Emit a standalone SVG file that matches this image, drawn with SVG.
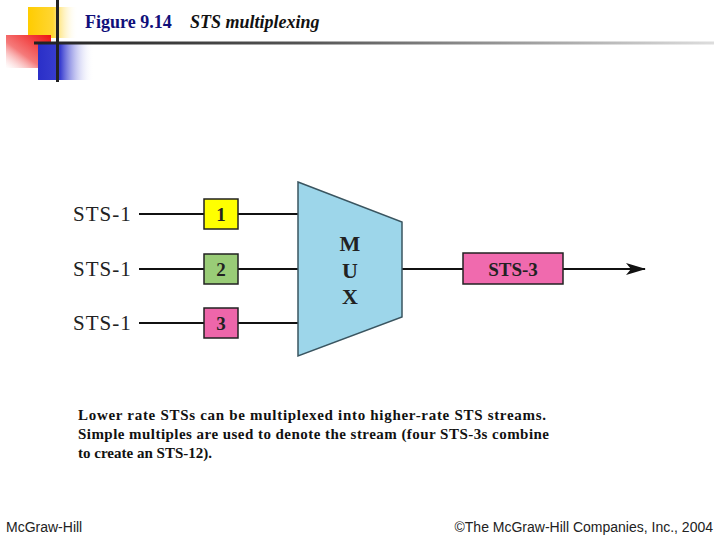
<svg xmlns="http://www.w3.org/2000/svg" width="720" height="540" viewBox="0 0 720 540">
<defs>
<linearGradient id="gy" x1="0" y1="0" x2="1" y2="0"><stop offset="0" stop-color="#ffcc00"/><stop offset="0.5" stop-color="#ffd633"/><stop offset="1" stop-color="#ffffff" stop-opacity="0"/></linearGradient>
<linearGradient id="gr" x1="1" y1="0" x2="0" y2="1"><stop offset="0" stop-color="#ee1111"/><stop offset="0.6" stop-color="#f57a7a"/><stop offset="1" stop-color="#ffffff" stop-opacity="0.4"/></linearGradient>
<linearGradient id="gb" x1="0" y1="0" x2="1" y2="0"><stop offset="0" stop-color="#2a2fc8"/><stop offset="0.4" stop-color="#3a3fd0"/><stop offset="1" stop-color="#ffffff" stop-opacity="0"/></linearGradient>
<linearGradient id="gl" x1="0" y1="0" x2="1" y2="0"><stop offset="0" stop-color="#222222"/><stop offset="0.4" stop-color="#555555"/><stop offset="1" stop-color="#dddddd"/></linearGradient>
<marker id="arr" viewBox="0 0 20 12" refX="19" refY="6" markerWidth="20" markerHeight="12" markerUnits="userSpaceOnUse" orient="auto"><path d="M0,0 L20,6 L0,12 L5,6 Z" fill="#111"/></marker>
<style>
.ln{stroke:#111;stroke-width:2;fill:none}
.in{font-family:"Liberation Serif","Times New Roman",serif;font-size:21px;letter-spacing:1px;fill:#222}
.bx{stroke:#222;stroke-width:1.5}
.num{font-family:"Liberation Serif","Times New Roman",serif;font-size:19px;font-weight:bold;fill:#222;text-anchor:middle}
.mux{font-family:"Liberation Serif","Times New Roman",serif;font-size:22px;font-weight:bold;fill:#222;text-anchor:middle}
.cap{font-family:"Liberation Serif","Times New Roman",serif;font-size:15px;font-weight:bold;fill:#111}
.ft{font-family:"Liberation Sans",Arial,sans-serif;font-size:14px;fill:#222}
</style>
</defs>
<rect width="720" height="540" fill="#ffffff"/>
<g id="decor">
<rect x="28" y="7" width="50" height="31" fill="url(#gy)"/>
<rect x="6" y="35" width="45" height="33" fill="url(#gr)"/>
<rect x="38" y="43" width="56" height="37" fill="url(#gb)"/>
<rect x="34" y="41.5" width="680" height="3" fill="url(#gl)"/>
<rect x="56" y="0" width="3" height="82" fill="#222"/>
</g>
<g id="title">
<text x="85" y="28" font-family="Liberation Serif,'Times New Roman',serif" font-size="18" font-weight="bold" fill="#10107a">Figure 9.14</text>
<text x="190" y="28" font-family="Liberation Serif,'Times New Roman',serif" font-size="18" font-weight="bold" font-style="italic" fill="#111">STS multiplexing</text>
</g>
<g id="connectors">
<line class="ln" x1="139" y1="214" x2="204" y2="214"/>
<line class="ln" x1="238" y1="214" x2="298" y2="214"/>
<line class="ln" x1="139" y1="269" x2="204" y2="269"/>
<line class="ln" x1="238" y1="269" x2="298" y2="269"/>
<line class="ln" x1="139" y1="323" x2="204" y2="323"/>
<line class="ln" x1="238" y1="323" x2="298" y2="323"/>
<line class="ln" x1="402" y1="269" x2="463" y2="269"/>
<line class="ln" x1="563" y1="269" x2="645" y2="269" marker-end="url(#arr)"/>
</g>
<g id="in1"><text class="in" x="73" y="221">STS-1</text></g>
<g id="in2"><text class="in" x="73" y="276">STS-1</text></g>
<g id="in3"><text class="in" x="73" y="330">STS-1</text></g>
<g id="box1"><rect class="bx" x="204" y="199" width="34" height="30" fill="#ffff00"/><text class="num" x="221" y="221">1</text></g>
<g id="box2"><rect class="bx" x="204" y="254" width="34" height="30" fill="#99cc77"/><text class="num" x="221" y="276">2</text></g>
<g id="box3"><rect class="bx" x="204" y="308" width="34" height="30" fill="#ee66aa"/><text class="num" x="221" y="330">3</text></g>
<g id="mux">
<polygon points="298,182 402,222 402,317 298,356" fill="#9dd6ea" stroke="#3a5560" stroke-width="1.5"/>
<text class="mux" x="350" y="251">M</text>
<text class="mux" x="350" y="278">U</text>
<text class="mux" x="350" y="304">X</text>
</g>
<g id="sts3"><rect class="bx" x="463" y="253" width="100" height="31" fill="#f06aae"/><text class="num" x="513" y="276" font-size="20" fill="#2a0a1a">STS-3</text></g>
<g id="caption">
<text class="cap" x="78" y="420" textLength="468" lengthAdjust="spacing">Lower rate STSs can be multiplexed into higher-rate STS streams.</text>
<text class="cap" x="78" y="439" textLength="471" lengthAdjust="spacing">Simple multiples are used to denote the stream (four STS-3s combine</text>
<text class="cap" x="78" y="458" textLength="134" lengthAdjust="spacing">to create an STS-12).</text>
</g>
<g id="footer">
<text class="ft" x="6" y="532">McGraw-Hill</text>
<text class="ft" x="713" y="532" text-anchor="end">©The McGraw-Hill Companies, Inc., 2004</text>
</g>
</svg>
